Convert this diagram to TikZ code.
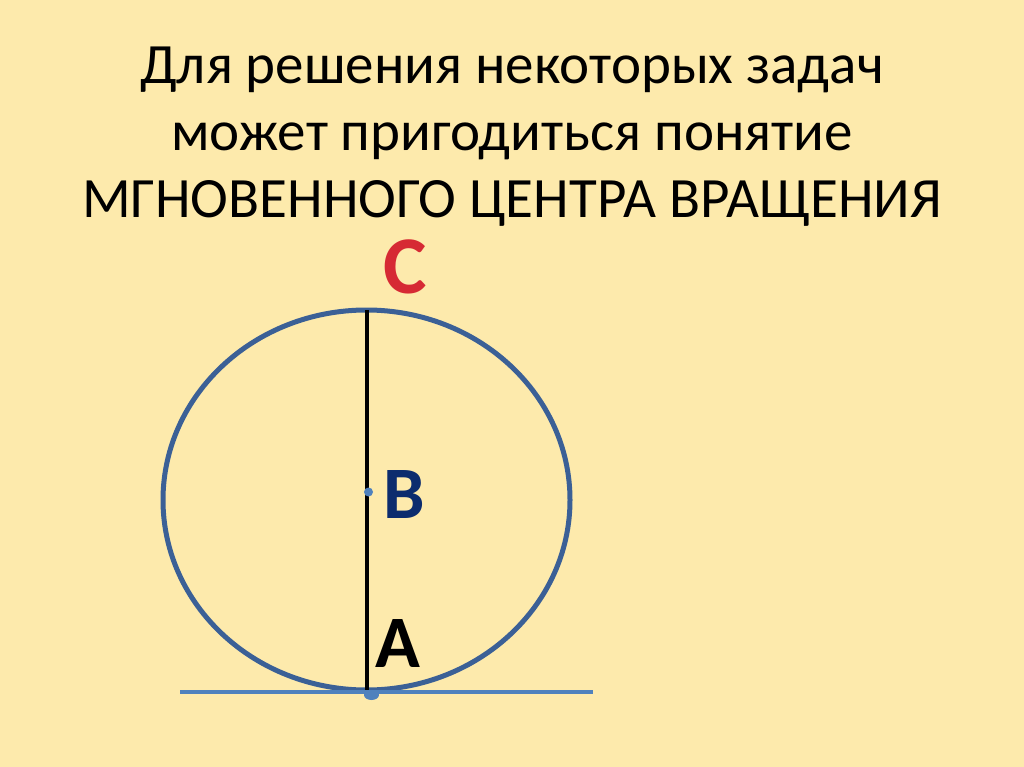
\documentclass[tikz,border=0pt]{standalone}
\usepackage{fontspec}
\setmainfont{Carlito}
\usetikzlibrary{positioning}
\definecolor{paper}{RGB}{253,234,172}
\definecolor{rimblue}{RGB}{59,96,150}
\definecolor{roadblue}{RGB}{79,129,189}
\definecolor{cred}{RGB}{214,42,52}
\definecolor{bblue}{RGB}{12,44,110}

\begin{document}
\begin{tikzpicture}[x=1pt, y=-1pt,
      title/.style = {align=center, inner sep=0pt,
        font=\fontsize{57}{67}\selectfont},
      letter/.style = {inner sep=0pt, font=\fontsize{74}{74}\bfseries\selectfont},
      rim/.style = {draw=rimblue, line width=5pt},
      road/.style = {draw=roadblue, line width=3.5pt},
      spoke/.style = {draw=black, line width=4pt}]
  \fill[paper] (0,0) rectangle (1024,767);
  \node[title] (head) at (512,137)
    {Для решения некоторых задач\\может пригодиться понятие\\МГНОВЕННОГО ЦЕНТРА ВРАЩЕНИЯ};
  % wheel
  \coordinate (top) at (366.5,310);
  \coordinate (mid) at (368.5,492);
  \coordinate (contact) at (366.5,690);
  \coordinate (roadL) at (180,692);
  \coordinate (roadR) at (593,692);
  \draw[rim] (366.5,500) ellipse [x radius=203.5, y radius=190];
  \draw[road] (roadL) -- (roadR);
  \draw[spoke] (top) -- (contact);
  \fill[roadblue] (mid) circle (4.5);
  \fill[roadblue] (371.5,695) ellipse [x radius=7.5, y radius=5];
  % labels
  \node[letter, text=cred, font=\fontsize{82}{82}\bfseries\selectfont] (C) at (405,267) {C};
  \node[letter, text=bblue] (B) at (404,495) {B};
  \node[letter, text=black] (A) at (398,644) {A};
\end{tikzpicture}
\end{document}
